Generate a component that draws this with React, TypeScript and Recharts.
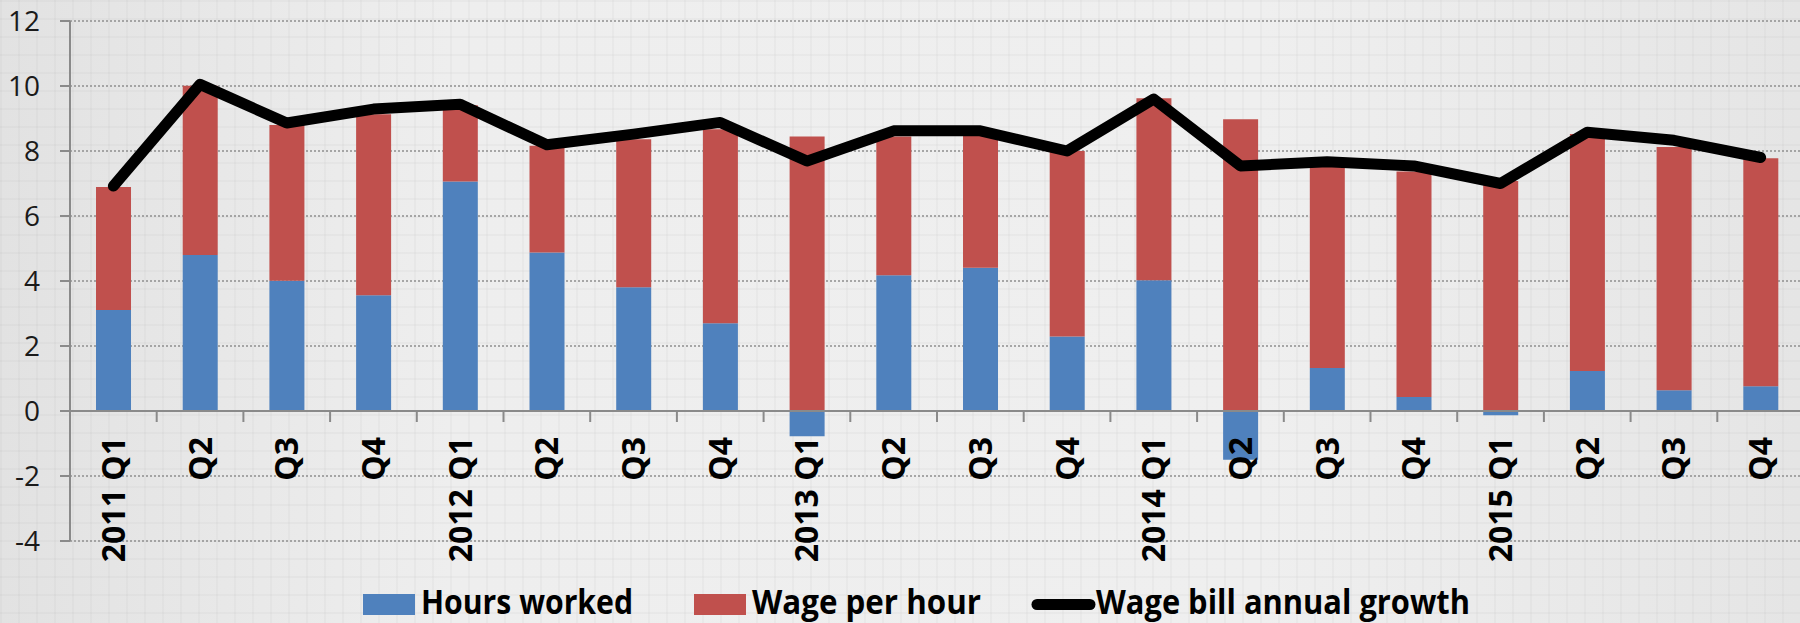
import React from "react";
import {
  ComposedChart,
  Bar,
  Line,
  XAxis,
  YAxis,
  CartesianGrid,
  ReferenceLine,
} from "recharts";

const quarters = [
  "2011 Q1", "Q2", "Q3", "Q4",
  "2012 Q1", "Q2", "Q3", "Q4",
  "2013 Q1", "Q2", "Q3", "Q4",
  "2014 Q1", "Q2", "Q3", "Q4",
  "2015 Q1", "Q2", "Q3", "Q4",
];

const hoursWorked = [
  3.11, 4.8, 4.01, 3.56, 7.06, 4.88, 3.81, 2.7, -0.78, 4.18,
  4.41, 2.29, 4.02, -1.5, 1.32, 0.43, -0.13, 1.23, 0.64, 0.76,
];

const wagePerHour = [
  3.78, 5.21, 4.79, 5.57, 2.35, 3.28, 4.55, 5.97, 8.45, 4.27,
  4.06, 5.71, 5.6, 8.98, 6.23, 6.94, 7.08, 7.29, 7.48, 7.02,
];

const wageBillGrowth = [
  6.92, 10.05, 8.86, 9.29, 9.44, 8.19, 8.52, 8.88, 7.69, 8.62,
  8.62, 8.0, 9.6, 7.54, 7.67, 7.54, 7.0, 8.58, 8.33, 7.8,
];

const yTicks = [-4, -2, 0, 2, 4, 6, 8, 10, 12];

const data = quarters.map((q, i) => ({
  quarter: q,
  hours: hoursWorked[i],
  wage: wagePerHour[i],
  bill: wageBillGrowth[i],
}));

// layout
const CHART_W = 1810;
const CHART_H = 623;
const MARGIN = { top: 21, right: 6, left: 0, bottom: 0 };
const Y_AXIS_W = 70;
const X_AXIS_H = 82;
const PLOT_H = CHART_H - MARGIN.top - MARGIN.bottom - X_AXIS_H;
const PLOT_W = CHART_W - MARGIN.left - MARGIN.right - Y_AXIS_W;
const Y_MIN = -4;
const Y_MAX = 12;
const ZERO_Y = MARGIN.top + ((Y_MAX - 0) / (Y_MAX - Y_MIN)) * PLOT_H;
const BAND = PLOT_W / quarters.length;

const BLUE = "#4F81BD";
const RED = "#C0504D";
const AXIS_GRAY = "#8a8a8a";

const XTick = (props: any) => {
  const { x, payload } = props;
  const ty = ZERO_Y + 26;
  return (
    <g>
      <line
        x1={x + BAND / 2}
        x2={x + BAND / 2}
        y1={ZERO_Y}
        y2={ZERO_Y + 11}
        stroke={AXIS_GRAY}
        strokeWidth={2}
      />
      <text
        x={x}
        y={ty}
        dy="0.36em"
        transform={`rotate(-90 ${x} ${ty})`}
        textAnchor="end"
        fontFamily="'Open Sans', sans-serif"
        fontWeight={700}
        fontSize={32}
        fill="#000"
      >
        {payload.value}
      </text>
    </g>
  );
};

const legendItems = [
  { label: "Hours worked", color: BLUE, kind: "rect", x: 363, textW: 212 },
  { label: "Wage per hour", color: RED, kind: "rect", x: 694, textW: 229 },
  { label: "Wage bill annual growth", color: "#000", kind: "line", x: 1032, textW: 374 },
];

function ChartLegend() {
  return (
    <svg
      width={1800}
      height={48}
      style={{ position: "absolute", left: 0, top: 575 }}
    >
      {legendItems.map((item) => (
        <g key={item.label}>
          {item.kind === "rect" ? (
            <rect x={item.x} y={19} width={52} height={21} fill={item.color} />
          ) : (
            <line
              x1={item.x + 5}
              x2={item.x + 58}
              y1={29.5}
              y2={29.5}
              stroke={item.color}
              strokeWidth={11}
              strokeLinecap="round"
            />
          )}
          <text
            x={item.kind === "rect" ? item.x + 58 : item.x + 64}
            y={39}
            textLength={item.textW}
            lengthAdjust="spacingAndGlyphs"
            fontFamily="'Open Sans', sans-serif"
            fontWeight={700}
            fontSize={34}
            fill="#000"
          >
            {item.label}
          </text>
        </g>
      ))}
    </svg>
  );
}

export default function App() {
  return (
    <div
      style={{
        position: "absolute",
        left: 0,
        top: 0,
        width: 1800,
        height: 623,
        overflow: "hidden",
        backgroundColor: "#ececec",
        backgroundImage:
          "linear-gradient(to right, rgba(0,0,0,0.022) 2px, transparent 2px)," +
          "linear-gradient(to bottom, rgba(0,0,0,0.022) 2px, transparent 2px)," +
          "linear-gradient(to right, #e2e2e2, #eeeeee 25%, #efefef 70%, #e5e5e5)",
        backgroundSize: "18px 18px, 18px 18px, 100% 100%",
      }}
    >
      <ComposedChart
        width={CHART_W}
        height={CHART_H}
        data={data}
        margin={MARGIN}
        stackOffset="sign"
        barCategoryGap="30%"
        style={{ position: "absolute", left: 0, top: 0 }}
      >
        <CartesianGrid
          vertical={false}
          stroke="#8f8f8f"
          strokeWidth={1.5}
          strokeDasharray="2 2"
        />
        <XAxis
          dataKey="quarter"
          interval={0}
          height={X_AXIS_H}
          axisLine={false}
          tickLine={false}
          tick={<XTick />}
        />
        <YAxis
          domain={[Y_MIN, Y_MAX]}
          ticks={yTicks}
          width={Y_AXIS_W}
          axisLine={{ stroke: AXIS_GRAY, strokeWidth: 2 }}
          tickLine={{ stroke: AXIS_GRAY, strokeWidth: 2 }}
          tickSize={10}
          tickMargin={20}
          tick={{ fontFamily: "'Open Sans', sans-serif", fontSize: 28, fill: "#1a1a1a" }}
        />
        <Bar dataKey="hours" stackId="a" fill={BLUE} isAnimationActive={false} />
        <Bar dataKey="wage" stackId="a" fill={RED} isAnimationActive={false} />
        <ReferenceLine y={0} stroke={AXIS_GRAY} strokeWidth={2} />
        <Line
          type="linear"
          dataKey="bill"
          stroke="#000"
          strokeWidth={11}
          strokeLinejoin="round"
          strokeLinecap="round"
          dot={false}
          activeDot={false}
          isAnimationActive={false}
        />
      </ComposedChart>
      <ChartLegend />
    </div>
  );
}
